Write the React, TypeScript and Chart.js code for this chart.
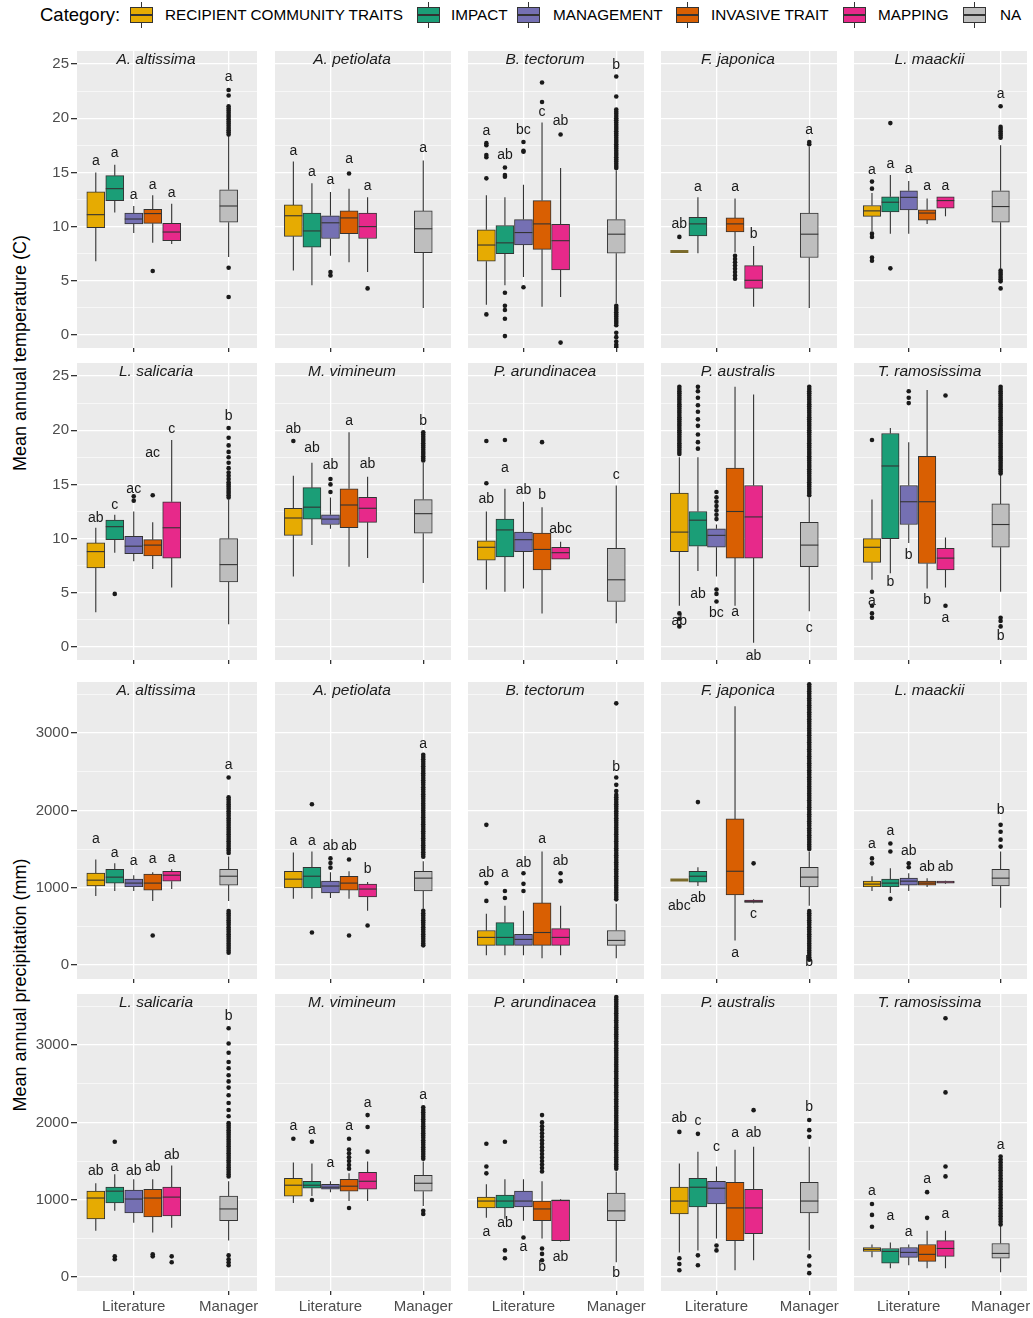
import React, { useEffect, useRef } from 'react';
import { Chart, registerables } from 'chart.js';

Chart.register(...registerables);

const FONT = '"Liberation Sans", Arial, Helvetica, sans-serif';

// ---------- data ----------
const SPECIES = [
  'A. altissima', 'A. petiolata', 'B. tectorum', 'F. japonica', 'L. maackii',
  'L. salicaria', 'M. vimineum', 'P. arundinacea', 'P. australis', 'T. ramosissima',
];
const CATEGORIES = ['RECIPIENT COMMUNITY TRAITS', 'IMPACT', 'MANAGEMENT', 'INVASIVE TRAIT', 'MAPPING', 'NA'];
const COLORS = ['#E6AB02', '#1B9E77', '#7570B3', '#D95F02', '#E7298A', '#BEBEBE'];
const X_LABELS = ['Literature', 'Manager'];
const X_TICKS = [1, 2];
const TEMP_MAJOR = [0, 5, 10, 15, 20, 25];
const TEMP_MINOR = [2.5, 7.5, 12.5, 17.5, 22.5];
const PRECIP_MAJOR = [0, 1000, 2000, 3000];
const PRECIP_MINOR = [500, 1500, 2500, 3500];
const TEMP_LIMITS = [-1.2, 26.2];
const PRECIP_LIMITS = [-180, 3660];

// box stats per species: [lower whisker, Q1, median, Q3, upper whisker] per category (null = absent)
const TEMP_BOXES = [
  [[6.8, 9.9, 11.1, 13.2, 15.0], [11.3, 12.4, 13.5, 14.7, 15.7], [9.4, 10.25, 10.7, 11.25, 11.9], [8.5, 10.3, 11.2, 11.6, 12.9], [8.4, 8.7, 9.5, 10.3, 12.1], [7.2, 10.4, 11.9, 13.4, 18.4]],
  [[5.95, 9.1, 11.0, 12.0, 16.0], [4.6, 8.1, 9.6, 11.25, 14.0], [7.3, 8.9, 10.35, 11.0, 13.2], [6.7, 9.35, 10.8, 11.45, 13.5], [5.8, 8.9, 10.0, 11.25, 12.7], [2.5, 7.6, 9.8, 11.45, 16.1]],
  [[2.8, 6.8, 8.3, 9.7, 12.9], [4.6, 7.5, 8.5, 10.1, 12.7], [5.35, 8.3, 9.45, 10.65, 13.85], [2.6, 7.9, 10.25, 12.4, 19.6], [3.5, 6.0, 8.7, 10.2, 15.4], [2.9, 7.55, 9.3, 10.65, 15.2]],
  [[7.7, 7.7, 7.7, 7.7, 7.7], [7.55, 9.15, 10.25, 10.85, 12.7], null, [7.6, 9.5, 10.25, 10.8, 12.6], [2.6, 4.3, 5.05, 6.4, 8.2], [2.5, 7.15, 9.3, 11.25, 17.4]],
  [[9.6, 10.95, 11.45, 11.95, 13.1], [9.35, 11.35, 12.25, 12.75, 14.75], [9.35, 11.55, 12.7, 13.3, 14.2], [10.25, 10.6, 11.25, 11.55, 12.6], [10.95, 11.7, 12.4, 12.75, 12.75], [6.1, 10.4, 11.85, 13.3, 17.5]],
  [[3.2, 7.3, 8.8, 9.6, 11.0], [8.7, 9.9, 11.1, 11.7, 12.2], [7.9, 8.6, 9.3, 10.2, 12.5], [7.2, 8.4, 9.4, 9.9, 11.5], [5.5, 8.2, 11.0, 13.4, 19.1], [2.1, 6.0, 7.6, 10.0, 13.6]],
  [[6.5, 10.3, 11.9, 12.8, 15.8], [9.4, 11.8, 12.9, 14.7, 17.0], [10.9, 11.3, 11.8, 12.2, 13.8], [7.4, 11.0, 13.1, 14.6, 19.8], [8.2, 11.5, 12.8, 13.8, 15.7], [5.9, 10.5, 12.3, 13.6, 17.0]],
  [[5.3, 8.0, 9.2, 9.8, 12.5], [5.1, 8.3, 10.8, 11.8, 14.6], [5.4, 8.8, 9.9, 10.6, 13.4], [3.1, 7.1, 9.0, 10.5, 12.9], [8.1, 8.1, 8.7, 9.2, 9.7], [2.2, 4.2, 6.2, 9.1, 14.9]],
  [[3.8, 8.8, 10.6, 14.2, 17.5], [7.0, 9.3, 11.7, 12.5, 17.5], [6.5, 9.2, 10.3, 10.9, 11.3], [3.8, 8.2, 12.5, 16.5, 24.0], [0.4, 8.2, 12.0, 14.9, 23.3], [3.3, 7.4, 9.4, 11.5, 13.8]],
  [[6.2, 7.8, 9.2, 10.0, 13.6], [6.8, 10.0, 16.7, 19.7, 20.2], [9.6, 11.3, 13.4, 14.9, 18.9], [5.4, 7.7, 13.4, 17.6, 23.7], [5.5, 7.1, 8.2, 9.1, 10.1], [5.1, 9.2, 11.3, 13.2, 16.0]],
];

const TEMP_OUTLIERS = [
  [[], [], [], [5.9], [], [6.2, 3.5, 18.5, 18.7, 18.9, 19.1, 19.3, 19.5, 19.7, 19.9, 20.1, 20.3, 20.5, 20.7, 20.9, 21.1, 22.1, 22.6]],
  [[], [], [5.8, 5.5], [14.9], [4.3], []],
  [[14.45, 16.4, 16.6, 17.5, 17.7, 1.9], [14.6, 14.75, 15.45, 3.9, 2.7, 2.3, 1.5, -0.1], [16.9, 17.0, 17.8, 4.4], [21.5, 23.3], [18.5, -0.7],
    [15.4, 15.6, 15.8, 16.0, 16.2, 16.4, 16.6, 16.8, 17.0, 17.2, 17.4, 17.6, 17.8, 18.0, 18.2, 18.4, 18.6, 18.8, 19.0, 19.2, 19.4, 19.6, 19.8, 20.0, 20.2, 20.4, 20.6, 20.8, 22.0, 23.85,
      2.7, 2.5, 2.3, 2.1, 1.9, 1.7, 1.5, 1.3, 1.1, 0.9, 0.2, -0.2, -0.6, -0.9, -1.1]],
  [[9.05], [], [], [7.3, 7.0, 6.7, 6.4, 6.1, 5.8, 5.5, 5.2], [], [17.6, 17.8]],
  [[13.5, 14.15, 9.35, 9.05, 7.15, 6.85], [19.55, 6.15], [], [], [], [18.2, 18.4, 18.6, 18.8, 19.0, 19.2, 21.1, 5.95, 5.75, 5.55, 5.35, 5.15, 4.95, 4.3]],
  [[], [4.9], [13.5, 13.9], [14.0], [], [13.8, 14.0, 14.2, 14.4, 14.6, 14.8, 15.0, 15.2, 15.5, 15.8, 16.1, 16.5, 17.0, 17.5, 18.0, 18.6, 19.3, 20.2]],
  [[19.0], [], [14.3, 15.0, 15.5], [], [], [17.2, 17.4, 17.6, 17.8, 18.0, 18.2, 18.4, 18.6, 18.8, 19.0, 19.2, 19.4, 19.6, 19.8]],
  [[15.1, 19.0], [19.1], [], [18.9], [], []],
  [[17.8, 18.0, 18.2, 18.4, 18.6, 18.8, 19.0, 19.2, 19.4, 19.6, 19.8, 20.0, 20.2, 20.4, 20.6, 20.8, 21.0, 21.2, 21.4, 21.6, 21.8, 22.0, 22.2, 22.4, 22.6, 22.8, 23.0, 23.2, 23.4, 23.6, 23.8, 24.0, 3.1, 2.6, 1.9],
    [18.3, 18.9, 19.6, 20.4, 21.0, 21.7, 22.3, 23.0, 23.6, 24.0],
    [11.8, 12.2, 12.6, 13.0, 13.4, 13.8, 14.3, 5.3, 4.9, 4.2], [], [],
    [14.0, 14.2, 14.4, 14.6, 14.8, 15.0, 15.2, 15.4, 15.6, 15.8, 16.0, 16.2, 16.4, 16.6, 16.8, 17.0, 17.2, 17.4, 17.6, 17.8, 18.0, 18.2, 18.4, 18.6, 18.8, 19.0,
      19.2, 19.4, 19.6, 19.8, 20.0, 20.2, 20.4, 20.6, 20.8, 21.0, 21.2, 21.4, 21.6, 21.8, 22.0, 22.2, 22.4, 22.6, 22.8, 23.0, 23.2, 23.4, 23.6, 23.8, 24.0]],
  [[19.1, 5.1, 3.8, 3.1, 2.7], [], [22.5, 23.0, 23.6], [], [23.2, 3.8],
    [16.0, 16.2, 16.4, 16.6, 16.8, 17.0, 17.2, 17.4, 17.6, 17.8, 18.0, 18.2, 18.4, 18.6, 18.8, 19.0, 19.2, 19.4, 19.6, 19.8, 20.0, 20.2, 20.4, 20.6, 20.8, 21.0,
      21.2, 21.4, 21.6, 21.8, 22.0, 22.2, 22.4, 22.6, 22.8, 23.0, 23.2, 23.4, 23.6, 23.8, 24.0, 2.7, 2.4, 1.9]],
];

// significance letters: [letter, value where it is printed]
const TEMP_LETTERS = [
  [['a', 16.0], ['a', 16.8], ['a', 12.9], ['a', 13.8], ['a', 13.1], ['a', 23.8]],
  [['a', 17.0], ['a', 15.05], ['a', 14.3], ['a', 16.2], ['a', 13.75], ['a', 17.2]],
  [['a', 18.85], ['ab', 16.6], ['bc', 18.9], ['c', 20.6], ['ab', 19.7], ['b', 24.9]],
  [['ab', 10.2], ['a', 13.6], null, ['a', 13.6], ['b', 9.35], ['a', 18.9]],
  [['a', 15.2], ['a', 15.8], ['a', 15.3], ['a', 13.7], ['a', 13.75], ['a', 22.2]],
  [['ab', 11.9], ['c', 13.1], ['ac', 14.6], ['ac', 17.9], ['c', 20.1], ['b', 21.3]],
  [['ab', 20.1], ['ab', 18.3], ['ab', 16.8], ['a', 20.8], ['ab', 16.9], ['b', 20.8]],
  [['ab', 13.6], ['a', 16.5], ['ab', 14.5], ['b', 14.0], ['abc', 10.9], ['c', 15.9]],
  [['ab', 2.4], ['ab', 4.9], ['bc', 3.1], ['a', 3.2], ['ab', -0.8], ['c', 1.7]],
  [['a', 4.2], ['b', 6.0], ['b', 8.5], ['b', 4.3], ['a', 2.7], ['b', 1.0]],
];

const PRECIP_BOXES = [
  [[894, 1022, 1098, 1188, 1366], [958, 1060, 1137, 1239, 1315], [958, 1009, 1060, 1111, 1162], [830, 970, 1060, 1175, 1200], [983, 1085, 1162, 1213, 1239], [830, 1034, 1149, 1239, 1405]],
  [[856, 996, 1111, 1213, 1456], [856, 996, 1149, 1264, 1469], [868, 932, 1022, 1085, 1200], [856, 970, 1060, 1149, 1213], [702, 881, 983, 1047, 1073], [728, 958, 1124, 1213, 1341]],
  [[128, 255, 358, 447, 664], [128, 255, 358, 549, 766], [128, 255, 332, 396, 702], [89, 255, 421, 804, 1469], [128, 255, 358, 472, 766], [89, 255, 319, 447, 792]],
  [[1100, 1100, 1100, 1100, 1100], [1022, 1073, 1149, 1213, 1264], null, [319, 907, 1213, 1890, 3346], [800, 810, 820, 840, 850], [766, 1009, 1137, 1264, 1469]],
  [[958, 1009, 1047, 1085, 1149], [932, 1009, 1060, 1111, 1251], [958, 1034, 1085, 1124, 1188], [1009, 1034, 1060, 1085, 1124], [1050, 1060, 1073, 1085, 1090], [741, 1022, 1124, 1239, 1469]],
  [[600, 753, 1022, 1111, 1213], [856, 958, 1111, 1162, 1328], [702, 830, 1009, 1124, 1264], [575, 779, 1022, 1136, 1264], [639, 792, 1034, 1162, 1443], [472, 728, 881, 1047, 1239]],
  [[958, 1047, 1188, 1277, 1481], [1047, 1149, 1188, 1239, 1469], [1098, 1136, 1162, 1200, 1239], [983, 1111, 1175, 1264, 1341], [983, 1136, 1239, 1354, 1494], [919, 1111, 1213, 1315, 1494]],
  [[766, 894, 983, 1034, 1200], [753, 894, 983, 1060, 1264], [728, 907, 983, 1111, 1264], [498, 728, 881, 983, 1239], [460, 472, 990, 1000, 1010], [192, 728, 856, 1085, 1366]],
  [[319, 817, 983, 1162, 1469], [345, 907, 1162, 1277, 1622], [498, 945, 1149, 1239, 1430], [89, 472, 894, 1226, 1647], [217, 562, 894, 1136, 1686], [345, 830, 983, 1226, 1686]],
  [[255, 332, 358, 383, 421], [115, 179, 332, 370, 447], [153, 255, 319, 383, 421], [115, 204, 294, 421, 600], [115, 268, 370, 472, 600], [64, 243, 306, 434, 664]],
];

const PRECIP_OUTLIERS = [
  [[], [], [], [383], [], [1450, 1480, 1510, 1540, 1570, 1600, 1630, 1660, 1690, 1720, 1750, 1780, 1810, 1840, 1870, 1900, 1930, 1960, 1990, 2020, 2050, 2080, 2110, 2140, 2170, 2426,
    700, 670, 640, 610, 580, 550, 520, 490, 460, 430, 400, 370, 340, 310, 280, 250, 220, 190, 160]],
  [[], [2080, 421], [1260, 1320, 1379], [1366, 383], [511],
    [1400, 1430, 1460, 1490, 1520, 1550, 1580, 1610, 1640, 1670, 1700, 1730, 1760, 1790, 1820, 1850, 1880, 1910, 1940, 1970, 2000, 2030, 2060, 2090, 2120, 2150, 2180,
      2210, 2240, 2270, 2300, 2330, 2360, 2390, 2420, 2450, 2480, 2510, 2540, 2570, 2600, 2630, 2660, 2690, 2720,
      702, 670, 640, 610, 580, 550, 520, 490, 460, 430, 400, 370, 340, 310, 280, 255]],
  [[830, 1060, 1813], [868, 958], [958, 1050, 1188], [], [1085, 1188],
    [850, 880, 910, 940, 970, 1000, 1030, 1060, 1090, 1120, 1150, 1180, 1210, 1240, 1270, 1300, 1330, 1360, 1390, 1420, 1450, 1480, 1510, 1540, 1570, 1600, 1630, 1660,
      1690, 1720, 1750, 1780, 1810, 1840, 1870, 1900, 1930, 1960, 1990, 2020, 2050, 2080, 2110, 2140, 2170, 2200, 2250, 2330, 2426, 3384]],
  [[], [2107], [], [], [1315],
    [1500, 1530, 1560, 1590, 1620, 1650, 1680, 1710, 1740, 1770, 1800, 1830, 1860, 1890, 1920, 1950, 1980, 2010, 2040, 2070, 2100, 2130, 2160, 2190, 2220, 2250, 2280,
      2310, 2340, 2370, 2400, 2430, 2460, 2490, 2520, 2550, 2580, 2610, 2640, 2670, 2700, 2730, 2760, 2790, 2820, 2850, 2880, 2910, 2940, 2970, 3000, 3030, 3060, 3090,
      3120, 3150, 3180, 3210, 3240, 3270, 3300, 3330, 3360, 3390, 3420, 3450, 3480, 3510, 3540, 3570, 3600, 3630,
      700, 670, 640, 610, 580, 550, 520, 490, 460, 430, 400, 370, 340, 310, 280, 250, 220, 190, 160, 130, 100, 70]],
  [[1315, 1379], [1469, 1571, 856], [1264, 1315], [], [], [1532, 1622, 1724, 1813]],
  [[], [1749, 268, 230], [], [294, 268], [268, 192],
    [1300, 1330, 1360, 1390, 1420, 1450, 1480, 1510, 1540, 1570, 1600, 1630, 1660, 1690, 1720, 1750, 1780, 1810, 1840, 1870, 1900, 1930, 1960, 1990,
      2080, 2160, 2250, 2350, 2450, 2530, 2610, 2700, 2780, 2900, 3020, 3218, 281, 230, 192, 153]],
  [[1788], [1749, 996], [], [1400, 1450, 1500, 1550, 1600, 1650, 1788, 894], [1622, 1941, 2094],
    [1530, 1560, 1590, 1620, 1650, 1680, 1710, 1740, 1770, 1800, 1830, 1860, 1890, 1920, 1950, 1980, 2010, 2040, 2070, 2100, 2130, 2160, 2196, 856, 817]],
  [[1341, 1430, 1724], [1749, 345, 243], [511],
    [1366, 1410, 1455, 1500, 1545, 1590, 1635, 1680, 1725, 1770, 1815, 1860, 1905, 1950, 2000, 2094, 370, 300, 217], [],
    [1400, 1430, 1460, 1490, 1520, 1550, 1580, 1610, 1640, 1670, 1700, 1730, 1760, 1790, 1820, 1850, 1880, 1910, 1940, 1970, 2000, 2030, 2060, 2090, 2120, 2150,
      2180, 2210, 2240, 2270, 2300, 2330, 2360, 2390, 2420, 2450, 2480, 2510, 2540, 2570, 2600, 2630, 2660, 2690, 2720, 2750, 2780, 2810, 2840, 2870, 2900, 2930,
      2960, 2990, 3020, 3050, 3080, 3110, 3140, 3170, 3200, 3230, 3260, 3290, 3320, 3350, 3380, 3410, 3440, 3470, 3500, 3530, 3560, 3590, 3620]],
  [[1877, 243, 170, 89], [1852, 281, 153], [409, 345], [], [2158], [1813, 1900, 2030, 268, 150, 51]],
  [[651, 804, 945], [], [], [766, 1098], [1302, 1430, 2388, 3346],
    [680, 715, 750, 785, 820, 855, 890, 925, 960, 995, 1030, 1065, 1100, 1135, 1170, 1205, 1240, 1275, 1310, 1345, 1380, 1415, 1450, 1485, 1520, 1558]],
];

const PRECIP_LETTERS = [
  [['a', 1622], ['a', 1443], ['a', 1341], ['a', 1366], ['a', 1379], ['a', 2580]],
  [['a', 1596], ['a', 1596], ['ab', 1532], ['ab', 1532], ['b', 1239], ['a', 2860]],
  [['ab', 1188], ['a', 1188], ['ab', 1315], ['a', 1622], ['ab', 1341], ['b', 2554]],
  [['abc', 766], ['ab', 868], null, ['a', 153], ['c', 664], ['b', 38]],
  [['a', 1558], ['a', 1737], ['ab', 1469], ['ab', 1264], ['ab', 1264], ['b', 2005]],
  [['ab', 1366], ['a', 1417], ['ab', 1366], ['ab', 1417], ['ab', 1583], ['b', 3371]],
  [['a', 1954], ['a', 1903], ['a', 1469], ['a', 1954], ['a', 2248], ['a', 2350]],
  [['a', 587], ['ab', 702], ['a', 383], ['b', 128], ['ab', 255], ['b', 51]],
  [['ab', 2056], ['c', 2018], ['c', 1686], ['a', 1864], ['ab', 1864], ['b', 2196]],
  [['a', 1111], ['a', 792], ['a', 575], ['a', 1264], ['a', 817], ['a', 1711]],
];

// ---------- layout ----------
const COL_LEFT = [77, 271, 464, 657, 850];
const COL_WIDTH = [184, 184, 184, 184, 177];
const COL_EXTRA_RIGHT = [0, 0, 0, 0, 6];
const COL_LIT_OFFSET = [58, 58, 58, 58, 56]; // px from panel left to the Literature tick
const COL_UNIT_PX = [97, 97, 97, 97, 94]; // px per x unit
const ROW_TOP = [47, 359, 678, 990];
const ROW_HEIGHT = 301;
const Y_AXIS_W = 77;

const boxX = (k: number) => (k < 5 ? 1 + (k - 2) * 0.2 : 2);

type PanelDef = { row: number; col: number; sp: number };
const PANELS: PanelDef[] = [];
for (let r = 0; r < 4; r++) for (let c = 0; c < 5; c++) PANELS.push({ row: r, col: c, sp: (r % 2) * 5 + c });

function canvasRect(p: PanelDef) {
  const left = p.col === 0 ? 0 : COL_LEFT[p.col];
  const width = (p.col === 0 ? COL_LEFT[0] : 0) + COL_WIDTH[p.col] + COL_EXTRA_RIGHT[p.col];
  const height = ROW_HEIGHT + (p.row === 3 ? 26 : 6);
  return { left, top: ROW_TOP[p.row], width, height };
}

function buildConfig(p: PanelDef): any {
  const isTemp = p.row < 2;
  const boxes = (isTemp ? TEMP_BOXES : PRECIP_BOXES)[p.sp];
  const outliers = (isTemp ? TEMP_OUTLIERS : PRECIP_OUTLIERS)[p.sp];
  const letters = (isTemp ? TEMP_LETTERS : PRECIP_LETTERS)[p.sp];
  const major = isTemp ? TEMP_MAJOR : PRECIP_MAJOR;
  const minor = isTemp ? TEMP_MINOR : PRECIP_MINOR;
  const lim = isTemp ? TEMP_LIMITS : PRECIP_LIMITS;
  const title = SPECIES[p.sp];
  const showY = p.col === 0;
  const showX = p.row === 3;
  const rect = canvasRect(p);
  const litOff = COL_LIT_OFFSET[p.col];
  const unit = COL_UNIT_PX[p.col];
  const xMin = 1 - litOff / unit;
  const xMax = 1 + (COL_WIDTH[p.col] - litOff) / unit;
  const BAR_W = p.col === 4 ? 17.5 : 18;

  const datasets: any[] = CATEGORIES.map((cat, k) => ({
    type: 'bar',
    label: cat,
    grouped: false,
    barThickness: BAR_W,
    order: 1,
    data: boxes[k] ? [{ x: boxX(k), y: [boxes[k]![1], boxes[k]![3]] }] : [],
    backgroundColor: COLORS[k],
    borderColor: '#333333',
    borderWidth: 1,
    borderSkipped: false,
  }));
  datasets.push({
    type: 'scatter',
    label: 'outliers',
    order: 0,
    data: outliers.flatMap((list, k) => list.map((v) => ({ x: boxX(k), y: v }))),
    pointRadius: 2.3,
    pointBackgroundColor: '#1a1a1a',
    pointBorderWidth: 0,
    showLine: false,
  });

  const plugin = {
    id: 'boxExtras',
    beforeDraw(chart: any) {
      const { ctx, chartArea: a } = chart;
      ctx.save();
      ctx.fillStyle = '#EBEBEB';
      ctx.fillRect(a.left, a.top, a.right - a.left, a.bottom - a.top);
      ctx.restore();
    },
    beforeDatasetsDraw(chart: any) {
      const { ctx } = chart;
      const xs = chart.scales.x;
      const ys = chart.scales.y;
      ctx.save();
      ctx.strokeStyle = '#333333';
      ctx.lineWidth = 1.1;
      boxes.forEach((b, k) => {
        if (!b) return;
        const px = xs.getPixelForValue(boxX(k));
        ctx.beginPath();
        ctx.moveTo(px, ys.getPixelForValue(b[0]));
        ctx.lineTo(px, ys.getPixelForValue(b[1]));
        ctx.moveTo(px, ys.getPixelForValue(b[3]));
        ctx.lineTo(px, ys.getPixelForValue(b[4]));
        ctx.stroke();
      });
      ctx.restore();
    },
    afterDatasetsDraw(chart: any) {
      const { ctx, chartArea: a } = chart;
      const xs = chart.scales.x;
      const ys = chart.scales.y;
      ctx.save();
      boxes.forEach((b, k) => {
        if (!b) return;
        const px = xs.getPixelForValue(boxX(k));
        const flat = b[1] === b[3];
        ctx.strokeStyle = flat ? '#7a6a2a' : '#333333';
        ctx.lineWidth = flat ? 3 : 1.1;
        const py = ys.getPixelForValue(b[2]);
        ctx.beginPath();
        ctx.moveTo(px - BAR_W / 2, py);
        ctx.lineTo(px + BAR_W / 2, py);
        ctx.stroke();
      });
      ctx.fillStyle = '#1a1a1a';
      ctx.font = `14px ${FONT}`;
      ctx.textAlign = 'center';
      ctx.textBaseline = 'middle';
      letters.forEach((l, k) => {
        if (!l) return;
        ctx.fillText(l[0] as string, xs.getPixelForValue(boxX(k)), ys.getPixelForValue(l[1] as number));
      });
      ctx.font = `italic 15.5px ${FONT}`;
      ctx.fillText(title, (a.left + a.right) / 2 - 11, a.top + 9);
      ctx.restore();
    },
  };

  return {
    type: 'bar',
    data: { datasets },
    plugins: [plugin],
    options: {
      animation: false,
      responsive: false,
      maintainAspectRatio: false,
      events: [],
      layout: { padding: { left: 0, top: 0, bottom: 0, right: COL_EXTRA_RIGHT[p.col] } },
      plugins: { legend: { display: false }, tooltip: { enabled: false }, title: { display: false } },
      scales: {
        x: {
          type: 'linear',
          min: xMin,
          max: xMax,
          offset: false,
          afterBuildTicks: (s: any) => {
            s.ticks = X_TICKS.map((v) => ({ value: v }));
          },
          afterFit: (s: any) => {
            s.height = rect.height - ROW_HEIGHT;
            s.paddingLeft = 0;
            s.paddingRight = 0;
            s.paddingTop = 0;
            s.paddingBottom = 0;
          },
          ticks: {
            display: showX,
            autoSkip: false,
            maxRotation: 0,
            padding: 3,
            color: '#4D4D4D',
            font: { family: FONT, size: 15 },
            callback: (_v: any, i: number) => X_LABELS[i],
          },
          grid: {
            offset: false,
            color: '#FFFFFF',
            lineWidth: 1.3,
            drawTicks: true,
            tickLength: 4,
            tickColor: '#333333',
            tickWidth: 1.3,
          },
          border: { display: false },
        },
        y: {
          type: 'linear',
          min: lim[0],
          max: lim[1],
          afterBuildTicks: (s: any) => {
            s.ticks = [...major, ...minor].sort((m, n) => m - n).map((v) => ({ value: v }));
          },
          afterFit: (s: any) => {
            s.width = showY ? Y_AXIS_W : 0;
            s.paddingLeft = 0;
            s.paddingRight = 0;
            s.paddingTop = 0;
            s.paddingBottom = 0;
          },
          ticks: {
            display: showY,
            autoSkip: false,
            padding: 2,
            color: '#4D4D4D',
            font: { family: FONT, size: 15 },
            callback: (v: any) => (major.includes(v) ? String(v) : ''),
          },
          grid: {
            color: '#FFFFFF',
            lineWidth: (ctx: any) => (ctx.tick && major.includes(ctx.tick.value) ? 1.3 : 0.6),
            drawTicks: showY,
            tickLength: 6,
            tickWidth: 1.3,
            tickColor: (ctx: any) => (ctx.tick && major.includes(ctx.tick.value) ? '#333333' : 'rgba(0,0,0,0)'),
          },
          border: { display: false },
        },
      },
    },
  };
}

// ---------- legend ----------
const LEGEND_KEY_X = [130, 417, 517, 676, 843, 963];
const LEGEND_TEXT_X = [165, 451, 553, 711, 878, 1000];

function LegendKey({ left, color }: { left: number; color: string }) {
  return (
    <div style={{ position: 'absolute', left, top: 2, width: 23, height: 26 }}>
      <div style={{ position: 'absolute', left: 10.5, top: 0, width: 1.5, height: 26, background: '#333' }} />
      <div
        style={{
          position: 'absolute', left: 0, top: 5, width: 23, height: 16, boxSizing: 'border-box',
          border: '1.5px solid #333', background: color,
        }}
      />
      <div style={{ position: 'absolute', left: 0, top: 12.3, width: 23, height: 1.4, background: '#333' }} />
    </div>
  );
}

export default function App() {
  const refs = useRef<(HTMLCanvasElement | null)[]>([]);

  useEffect(() => {
    const charts = PANELS.map((p, i) => new Chart(refs.current[i] as HTMLCanvasElement, buildConfig(p)));
    return () => charts.forEach((c) => c.destroy());
  }, []);

  return (
    <div style={{ position: 'absolute', left: 0, top: 0, width: 1033, height: 1318, overflow: 'hidden', background: '#fff', fontFamily: FONT }}>
      <div style={{ position: 'absolute', left: 40, top: 3, fontSize: 18.5, lineHeight: '24px', color: '#000' }}>Category:</div>
      {CATEGORIES.map((c, k) => (
        <React.Fragment key={c}>
          <LegendKey left={LEGEND_KEY_X[k]} color={COLORS[k]} />
          <div style={{ position: 'absolute', left: LEGEND_TEXT_X[k], top: 5, fontSize: 15.3, lineHeight: '20px', color: '#000', whiteSpace: 'nowrap' }}>{c}</div>
        </React.Fragment>
      ))}
      <div style={{ position: 'absolute', left: 20, top: 353, transform: 'translate(-50%, -50%) rotate(-90deg)', fontSize: 18, whiteSpace: 'nowrap', color: '#000' }}>
        Mean annual temperature (C)
      </div>
      <div style={{ position: 'absolute', left: 20, top: 985, transform: 'translate(-50%, -50%) rotate(-90deg)', fontSize: 18, whiteSpace: 'nowrap', color: '#000' }}>
        Mean annual precipitation (mm)
      </div>
      {PANELS.map((p, i) => {
        const r = canvasRect(p);
        return (
          <canvas
            key={i}
            ref={(el) => { refs.current[i] = el; }}
            width={r.width}
            height={r.height}
            style={{ position: 'absolute', left: r.left, top: r.top, width: r.width, height: r.height }}
          />
        );
      })}
    </div>
  );
}
